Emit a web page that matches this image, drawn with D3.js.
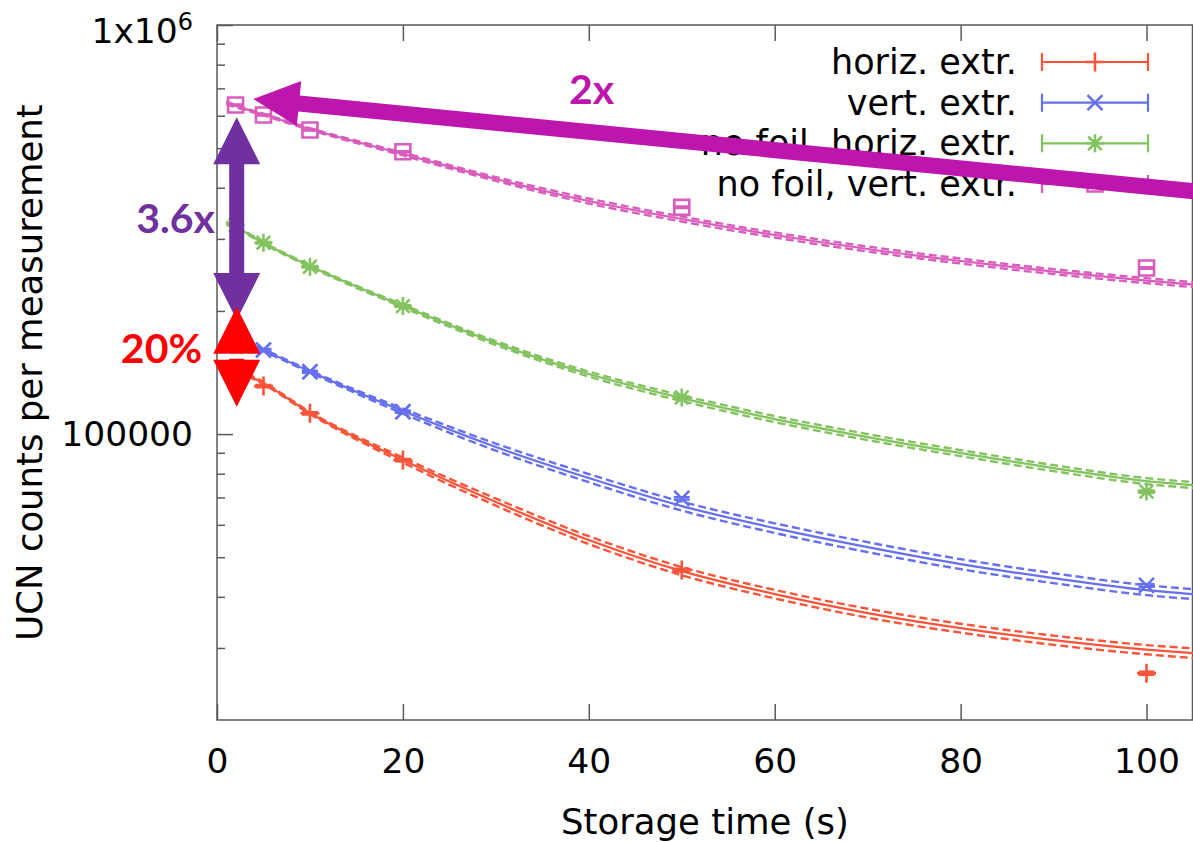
<!DOCTYPE html>
<html><head><meta charset="utf-8">
<script src="https://cdn.jsdelivr.net/npm/d3@7"></script>
<style>
html,body{margin:0;padding:0;background:#fff;}
svg{display:block;}
</style></head><body>
<svg id="chart" width="1193" height="842"></svg>
<script>
// ---------------- data ----------------
const storageTimes = [2, 5, 10, 20, 50, 100];
const fitTimes = [1, 2, 5, 10, 20, 30, 40, 50, 60, 70, 80, 90, 100, 105];

const seriesNames = ["horiz. extr.", "vert. extr.", "no foil, horiz. extr.", "no foil, vert. extr."];
const seriesColors = ["#f8553a", "#6670ee", "#83c35f", "#d95dbc"];
const seriesMarkers = ["plus", "cross", "star", "square"];

const horizCounts       = [143400, 131000, 112400, 86380, 46500, 26030];
const vertCounts        = [171600, 160500, 142000, 113400, 69630, 42660];
const noFoilHorizCounts = [324300, 293600, 256500, 205500, 122900, 72340];
const noFoilVertCounts  = [637300, 602400, 553700, 490000, 358300, 254600];

const horizErrPct       = [0.7, 0.7, 0.7, 0.7, 0.8, 0.9];
const vertErrPct        = [0.6, 0.6, 0.6, 0.6, 0.7, 0.8];
const noFoilHorizErrPct = [0.5, 0.5, 0.5, 0.5, 0.6, 0.7];
const noFoilVertErrPct  = [0.4, 0.4, 0.4, 0.4, 0.5, 0.5];

const horizFit       = [148300, 144200, 133200, 112600, 86380, 68200, 55060, 46240, 40630, 36500, 33540, 31350, 29720, 29140];
const vertFit        = [176500, 172600, 160500, 142200, 113800, 92950, 78060, 66680, 58910, 52930, 48100, 44450, 41550, 40630];
const noFoilHorizFit = [328000, 320700, 293100, 257400, 205600, 166900, 140200, 122400, 108800, 98330, 89860, 82560, 76750, 75040];
const noFoilVertFit  = [644500, 633700, 604100, 556800, 483700, 420300, 371300, 335500, 306600, 283400, 264900, 249600, 237200, 231900];

// fit confidence band half-width, percent
const horizBandPct       = [1.1, 0.8, 0.6, 0.6, 1.4, 2.0, 2.2, 2.3, 2.4, 2.5, 2.5, 2.6, 2.6, 2.7];
const vertBandPct        = [1.1, 0.8, 0.6, 0.6, 1.4, 2.0, 2.3, 2.5, 2.7, 2.8, 2.8, 2.8, 2.8, 2.8];
const noFoilHorizBandPct = [0.8, 0.6, 0.5, 0.5, 0.8, 1.1, 1.4, 1.6, 1.7, 1.7, 1.7, 1.7, 1.7, 1.7];
const noFoilVertBandPct  = [0.8, 0.6, 0.5, 0.5, 0.8, 1.1, 1.4, 1.4, 1.4, 1.4, 1.4, 1.4, 1.4, 1.4];

const xTickValues = [0, 20, 40, 60, 80, 100];
const yMajorTicks = [100000, 1000000];
const yMinorTicks = [30000, 40000, 50000, 60000, 70000, 80000, 90000,
                     200000, 300000, 400000, 500000, 600000, 700000, 800000, 900000];

// annotations (data coordinates)
const ratioArrowTop = {x: 3.9, v: 659300};     // tip of "2x" arrow
const ratioArrowTail = {x: 106, v: 390600};
const foilArrow = {x: 2.12, vTop: 594900, vBottom: 190000};      // "3.6x"
const extrArrow = {x: 2.12, vTop: 204800, vBottom: 116600};      // "20%"
const annotationLabels = [
  {text: "2x",   x: 40.3, v: 641000, anchor: "middle", color: "#bc16ad"},
  {text: "3.6x", x: -0.22, v: 309960, anchor: "end", color: "#7030a0"},
  {text: "20%",  x: -1.61, v: 149150, anchor: "end", color: "#ff0000"}
];

// ---------------- chart ----------------
const svg = d3.select("#chart");
const L = 217, R = 1193, T = 25, B = 720;
const x = d3.scaleLinear().domain([0, 105]).range([L, R]);
const y = d3.scaleLog().domain([20000, 1e6]).range([B, T]);
const axisColor = "#5a5a5a";
const FONT = "'DejaVu Sans', sans-serif";

svg.append("rect").attr("width", 1193).attr("height", 842).attr("fill", "#fff");

svg.append("defs").append("clipPath").attr("id", "plotclip")
  .append("rect").attr("x", L).attr("y", T).attr("width", R - L).attr("height", B - T);

function styleAxis(g) {
  g.select(".domain").remove();
  g.selectAll(".tick line").attr("stroke", axisColor).attr("stroke-width", 1.5);
  g.selectAll(".tick text").attr("fill", "#000").style("font-family", FONT).style("font-size", "34.5px");
}

// axes
const gx = svg.append("g").attr("transform", `translate(0,${B})`)
  .call(d3.axisBottom(x).tickValues(xTickValues).tickSizeInner(-16).tickSizeOuter(0).tickPadding(29).tickFormat(d3.format("d")));
styleAxis(gx);
const gxt = svg.append("g").attr("transform", `translate(0,${T})`)
  .call(d3.axisTop(x).tickValues(xTickValues).tickSizeInner(-16).tickSizeOuter(0).tickFormat(""));
styleAxis(gxt);

const gy = svg.append("g").attr("transform", `translate(${L},0)`)
  .call(d3.axisLeft(y).tickValues(yMajorTicks).tickSizeInner(-16).tickSizeOuter(0).tickPadding(24).tickFormat(d3.format("d")));
styleAxis(gy);
gy.selectAll(".tick text").each(function(d) {
  if (d === 1e6) {
    const t = d3.select(this);
    t.text(null).attr("dy", null).attr("y", 17);
    t.append("tspan").text("1x10");
    t.append("tspan").attr("dy", -13).style("font-size", "24px").text("6");
  }
});
const gym = svg.append("g").attr("transform", `translate(${L},0)`)
  .call(d3.axisLeft(y).tickValues(yMinorTicks).tickSizeInner(-8).tickSizeOuter(0).tickFormat(""));
styleAxis(gym);

// border
svg.append("rect").attr("x", L).attr("y", T).attr("width", R - 0.5 - L).attr("height", B - T)
  .attr("fill", "none").attr("stroke", axisColor).attr("stroke-width", 1.5);

// axis labels
svg.append("text").attr("x", (L + R) / 2).attr("y", 834).attr("text-anchor", "middle")
  .style("font-family", FONT).style("font-size", "35.5px").text("Storage time (s)");
svg.append("text").attr("transform", `translate(42,${(T + B) / 2}) rotate(-90)`).attr("text-anchor", "middle")
  .style("font-family", FONT).style("font-size", "35.5px").text("UCN counts per measurement");

// series
const counts = [horizCounts, vertCounts, noFoilHorizCounts, noFoilVertCounts];
const errs = [horizErrPct, vertErrPct, noFoilHorizErrPct, noFoilVertErrPct];
const fits = [horizFit, vertFit, noFoilHorizFit, noFoilVertFit];
const bands = [horizBandPct, vertBandPct, noFoilHorizBandPct, noFoilVertBandPct];

function markerPath(type) {
  const s = 9.5, c = 7.5, a = 9, ad = 6.8;
  if (type === "plus") return `M${-s},0H${s}M0,${-s}V${s}`;
  if (type === "cross") return `M${-c},${-c}L${c},${c}M${-c},${c}L${c},${-c}`;
  if (type === "star") return `M${-a},0H${a}M0,${-a}V${a}M${-ad},${-ad}L${ad},${ad}M${-ad},${ad}L${ad},${-ad}`;
  return "M-7.5,-7.5H7.5V7.5H-7.5Z";
}

const plot = svg.append("g").attr("clip-path", "url(#plotclip)");
const line = d3.line().x(d => x(d[0])).y(d => y(d[1])).curve(d3.curveMonotoneX);

seriesNames.forEach((name, i) => {
  const col = seriesColors[i];
  const g = plot.append("g");
  const center = fitTimes.map((t, k) => [t, fits[i][k]]);
  const upper = fitTimes.map((t, k) => [t, fits[i][k] * (1 + bands[i][k] / 100)]);
  const lower = fitTimes.map((t, k) => [t, fits[i][k] * (1 - bands[i][k] / 100)]);
  [upper, lower].forEach(b => g.append("path").attr("d", line(b)).attr("fill", "none")
    .attr("stroke", col).attr("stroke-width", 2.4).attr("stroke-dasharray", "8,4"));
  g.append("path").attr("d", line(center)).attr("fill", "none").attr("stroke", col).attr("stroke-width", 2.2);

  storageTimes.forEach((t, k) => {
    const v = counts[i][k], e = v * errs[i][k] / 100;
    const px = x(t), y0 = y(v - e), y1 = y(v + e);
    g.append("path").attr("d", `M${px},${y0}V${y1}M${px - 8},${y0}H${px + 8}M${px - 8},${y1}H${px + 8}`)
      .attr("stroke", col).attr("stroke-width", 2.2).attr("fill", "none");
    g.append("path").attr("transform", `translate(${px},${y(v)})`).attr("d", markerPath(seriesMarkers[i]))
      .attr("stroke", col).attr("stroke-width", 2.6).attr("fill", "none");
  });
});

// legend
const legendRowY = [62, 102.7, 143.3, 184];
seriesNames.forEach((name, i) => {
  const col = seriesColors[i], cy = legendRowY[i];
  svg.append("text").attr("x", 1017).attr("y", cy + 12).attr("text-anchor", "end")
    .style("font-family", FONT).style("font-size", "35px").text(name);
  svg.append("path").attr("d", `M1042,${cy}H1148M1042,${cy - 9}V${cy + 9}M1148,${cy - 9}V${cy + 9}`)
    .attr("stroke", col).attr("stroke-width", 2.2).attr("fill", "none");
  svg.append("path").attr("transform", `translate(1095,${cy})`).attr("d", markerPath(seriesMarkers[i]))
    .attr("stroke", col).attr("stroke-width", 2.6).attr("fill", "none");
});

// annotation arrows
function arrowPoly(x1, y1, x2, y2, headLen, headHalf, shaftHalf, doubleHead) {
  const dx = x2 - x1, dy = y2 - y1, len = Math.hypot(dx, dy);
  const ux = dx / len, uy = dy / len, nx = -uy, ny = ux;
  const P = (d, o) => [x1 + ux * d + nx * o, y1 + uy * d + ny * o];
  const pts = [P(0, 0), P(headLen, headHalf), P(headLen, shaftHalf)];
  if (doubleHead) {
    pts.push(P(len - headLen, shaftHalf), P(len - headLen, headHalf), P(len, 0), P(len - headLen, -headHalf), P(len - headLen, -shaftHalf));
  } else {
    pts.push(P(len, shaftHalf), P(len, -shaftHalf));
  }
  pts.push(P(headLen, -shaftHalf), P(headLen, -headHalf));
  return "M" + pts.map(p => p.join(",")).join("L") + "Z";
}
const ann = svg.append("g");
ann.append("path").attr("d", arrowPoly(x(ratioArrowTop.x), y(ratioArrowTop.v), x(ratioArrowTail.x), y(ratioArrowTail.v), 46, 22.5, 8, false))
  .attr("fill", "#bc16ad");
ann.append("path").attr("d", arrowPoly(x(foilArrow.x), y(foilArrow.vTop), x(foilArrow.x), y(foilArrow.vBottom), 47, 23.5, 7.5, true))
  .attr("fill", "#7030a0");
ann.append("path").attr("d", arrowPoly(x(extrArrow.x), y(extrArrow.vTop), x(extrArrow.x), y(extrArrow.vBottom), 47, 23.5, 7.5, true))
  .attr("fill", "#ff0000");
const midY = (y(extrArrow.vTop) + y(extrArrow.vBottom)) / 2;
ann.append("rect").attr("x", x(extrArrow.x) - 10).attr("y", midY - 3).attr("width", 20).attr("height", 5).attr("fill", "#fff");

annotationLabels.forEach(a => {
  ann.append("text").attr("x", x(a.x)).attr("y", y(a.v)).attr("text-anchor", a.anchor)
    .attr("fill", a.color).style("font-family", "Lato, sans-serif").style("font-weight", "bold")
    .style("font-size", "41px").text(a.text);
});
</script>
</body></html>
